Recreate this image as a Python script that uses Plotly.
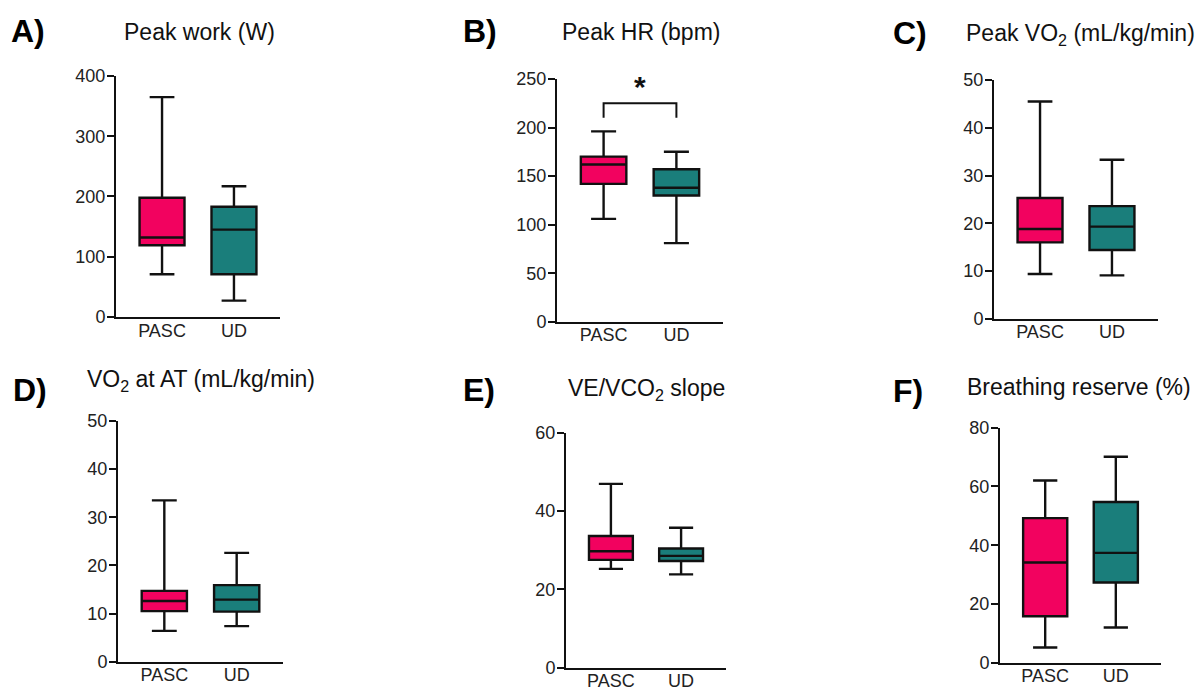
import plotly.graph_objects as go

# ---------------- data ----------------
categories = ["PASC", "UD"]
# each list: [lower whisker, Q1, median, Q3, upper whisker]
pasc_work = [71, 119, 132, 198, 365]
ud_work = [27, 71, 145, 183, 217]
pasc_hr = [106, 142, 162, 170, 196]
ud_hr = [81, 130, 138, 157, 175]
pasc_vo2 = [9.4, 16.0, 18.8, 25.3, 45.5]
ud_vo2 = [9.1, 14.4, 19.3, 23.6, 33.3]
pasc_vo2at = [6.4, 10.5, 12.6, 14.7, 33.5]
ud_vo2at = [7.4, 10.4, 12.9, 15.9, 22.6]
pasc_slope = [25.2, 27.5, 29.7, 33.6, 46.9]
ud_slope = [23.8, 27.2, 28.5, 30.4, 35.7]
pasc_br = [5.2, 15.8, 34.1, 49.2, 62.0]
ud_br = [12.0, 27.3, 37.4, 54.7, 70.1]

panel_letters = ["A)", "B)", "C)", "D)", "E)", "F)"]
panel_titles = ["Peak work (W)", "Peak HR (bpm)", "Peak VO<sub>2</sub> (mL/kg/min)",
                "VO<sub>2</sub> at AT (mL/kg/min)", "VE/VCO<sub>2</sub> slope",
                "Breathing reserve (%)"]
y_max = [400, 250, 50, 50, 60, 80]
y_step = [100, 50, 10, 10, 20, 20]
hr_bracket_y = [210, 225, 225, 210]
hr_star_y = 242

series = [(pasc_work, ud_work), (pasc_hr, ud_hr), (pasc_vo2, ud_vo2),
          (pasc_vo2at, ud_vo2at), (pasc_slope, ud_slope), (pasc_br, ud_br)]

# ---------------- layout constants ----------------
W, H = 1200, 697
PINK = "#F2025F"
TEAL = "#1A7E7B"
FONT = "Liberation Sans, Arial, Helvetica, sans-serif"

def px(x):
    return x / W

def py(y):
    return 1 - y / H

# plot areas in pixels: (left, right, top, bottom)
areas = [(116, 280, 68, 316), (557, 723, 71, 321), (994, 1158, 72, 318),
         (118, 283, 423, 671), (566, 726, 435, 677), (1000, 1161, 430, 672)]
# title anchor: (x, y, xanchor)
title_pos = [(199, 23, "center"), (641, 23, "center"), (1197, 25, "right"),
             (201, 381, "center"), (646, 391, "center"), (1193, 388, "right")]
letter_pos = [(9, 22), (461, 22), (891, 24), (11, 391), (461, 391), (891, 392)]

fig = go.Figure()
layout = dict(width=W, height=H, margin=dict(l=0, r=0, t=0, b=0),
              plot_bgcolor="white", paper_bgcolor="white", showlegend=False,
              font=dict(family=FONT, color="#111"))
annotations = []

for i, (pasc, ud) in enumerate(series):
    n = i + 1
    xa = "x" if n == 1 else f"x{n}"
    ya = "y" if n == 1 else f"y{n}"
    for cat, vals, col in zip(categories, (pasc, ud), (PINK, TEAL)):
        fig.add_trace(go.Box(
            x=[cat], lowerfence=[vals[0]], q1=[vals[1]], median=[vals[2]],
            q3=[vals[3]], upperfence=[vals[4]],
            fillcolor=col, line=dict(color="#111", width=2.4),
            whiskerwidth=0.55, width=0.625, boxpoints=False,
            xaxis=xa, yaxis=ya, hoverinfo="skip"))
    l, r, t, b = areas[i]
    layout["xaxis" if n == 1 else f"xaxis{n}"] = dict(
        domain=[px(l), px(r)], anchor=ya, type="category",
        categoryorder="array", categoryarray=categories,
        range=[-0.64, 1.64], showline=True, linecolor="#111", linewidth=2,
        ticks="", showgrid=False, zeroline=False, ticklabelstandoff=-4,
        tickfont=dict(size=18, family=FONT, color="#222"))
    layout["yaxis" if n == 1 else f"yaxis{n}"] = dict(
        domain=[py(b), py(t)], anchor=xa, range=[0, y_max[i]],
        tick0=0, dtick=y_step[i], showline=True, linecolor="#111", linewidth=2,
        ticks="outside", ticklen=7, tickwidth=2, tickcolor="#111",
        showgrid=False, zeroline=False, ticklabelstandoff=-2,
        tickfont=dict(size=18, family=FONT, color="#222"))
    tx, ty, anc = title_pos[i]
    annotations.append(dict(text=panel_titles[i], x=px(tx), y=py(ty),
                            xref="paper", yref="paper", xanchor=anc,
                            yanchor="middle", showarrow=False,
                            font=dict(size=23, family=FONT, color="#111")))
    lx, ly = letter_pos[i]
    annotations.append(dict(text="<b>" + panel_letters[i] + "</b>", x=px(lx), y=py(ly),
                            xref="paper", yref="paper", xanchor="left",
                            yanchor="middle", showarrow=False,
                            font=dict(size=32, family=FONT, color="#000")))

# significance bracket on panel B
fig.add_trace(go.Scatter(x=[categories[0], categories[0], categories[1], categories[1]],
                         y=hr_bracket_y, mode="lines",
                         line=dict(color="#111", width=2),
                         xaxis="x2", yaxis="y2", hoverinfo="skip"))
annotations.append(dict(text="<b>*</b>", x=0.5, y=hr_star_y, xref="x2", yref="y2",
                        showarrow=False, font=dict(size=30, family=FONT, color="#111")))

layout["annotations"] = annotations
fig.update_layout(**layout)
fig.write_html("out.html", config={"displayModeBar": False},
               post_script="document.body.style.margin='0';document.body.style.overflow='hidden';")
